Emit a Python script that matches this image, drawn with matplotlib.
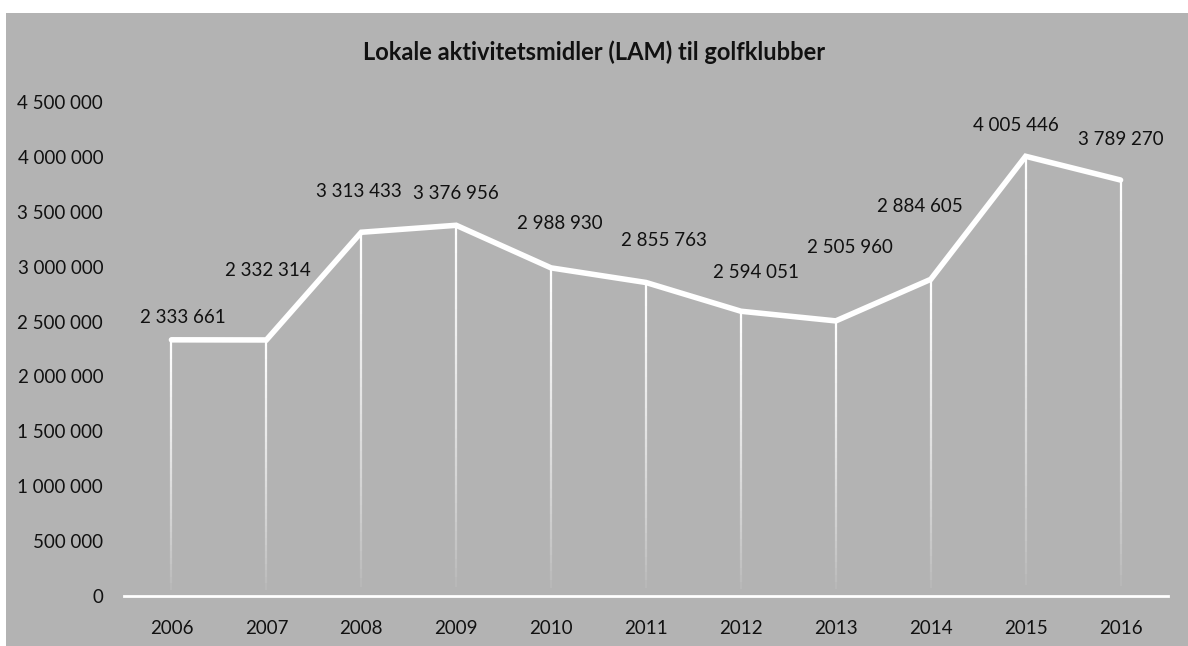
import matplotlib.pyplot as plt
import numpy as np
from matplotlib.collections import LineCollection

years = ['2006', '2007', '2008', '2009', '2010', '2011', '2012', '2013', '2014', '2015', '2016']
values = [2333661, 2332314, 3313433, 3376956, 2988930, 2855763, 2594051, 2505960, 2884605, 4005446, 3789270]
value_labels = ['2 333 661', '2 332 314', '3 313 433', '3 376 956', '2 988 930', '2 855 763',
                '2 594 051', '2 505 960', '2 884 605', '4 005 446', '3 789 270']
yticks = [0, 500000, 1000000, 1500000, 2000000, 2500000, 3000000, 3500000, 4000000, 4500000]
ytick_labels = ['0', '500 000', '1 000 000', '1 500 000', '2 000 000', '2 500 000',
                '3 000 000', '3 500 000', '4 000 000', '4 500 000']
# label offsets in points (dx, dy) from the data point
label_offsets = [(8, 10), (1, 44), (-2, 23), (0, 17), (6, 26), (13, 24), (11, 22), (10, 47), (-8, 46), (-7, 16), (0, 23)]

bg = '#b3b3b3'
plt.rcParams['font.family'] = ['Lato', 'DejaVu Sans']

fig = plt.figure(figsize=(11.88, 6.46), dpi=100)
fig.patches.append(plt.Rectangle((6/1188, 0), 1, 1 - 13/646, transform=fig.transFigure,
                                 facecolor=bg, edgecolor='none', zorder=-5))
ax = fig.add_axes([124/1188, 1 - 596/646, (1168 - 124)/1188, (596 - 102)/646])
ax.set_facecolor(bg)
ax.patch.set_alpha(0)

x = np.arange(len(years))

# drop lines fading towards the bottom
n = 40
for xi, v in zip(x, values):
    ys = np.linspace(0, v, n + 1)
    segs = [[(xi, ys[i]), (xi, ys[i + 1])] for i in range(n)]
    alphas = np.linspace(0.0, 1.0, n) ** 0.7
    cols = [(1, 1, 1, a) for a in alphas]
    ax.add_collection(LineCollection(segs, colors=cols, linewidths=1.6, zorder=2))

ax.plot(x, values, color='white', linewidth=4, solid_capstyle='round', solid_joinstyle='miter', zorder=3)

for xi, v, lab, off in zip(x, values, value_labels, label_offsets):
    ax.annotate(lab, (xi, v), xytext=off, textcoords='offset points', ha='center', va='bottom',
                fontsize=13.5, color='#111111')

ax.set_xlim(-0.5, 10.5)
ax.set_ylim(0, 4500000)
ax.set_xticks(x)
ax.set_xticklabels(years)
ax.set_yticks(yticks)
ax.set_yticklabels(ytick_labels)
ax.tick_params(axis='both', length=0, labelsize=13.5, labelcolor='#111111')
ax.tick_params(axis='y', pad=15)
ax.tick_params(axis='x', pad=17)
for s in ['top', 'right', 'left']:
    ax.spines[s].set_visible(False)
ax.spines['bottom'].set_color('white')
ax.spines['bottom'].set_linewidth(2)
ax.spines['bottom'].set_zorder(4)

fig.text(594/1188, 1 - 52/646, 'Lokale aktivitetsmidler (LAM) til golfklubber', ha='center', va='center',
         fontsize=17, fontweight='bold', color='#111111')

fig.savefig('out.png', dpi=100, facecolor='white')
